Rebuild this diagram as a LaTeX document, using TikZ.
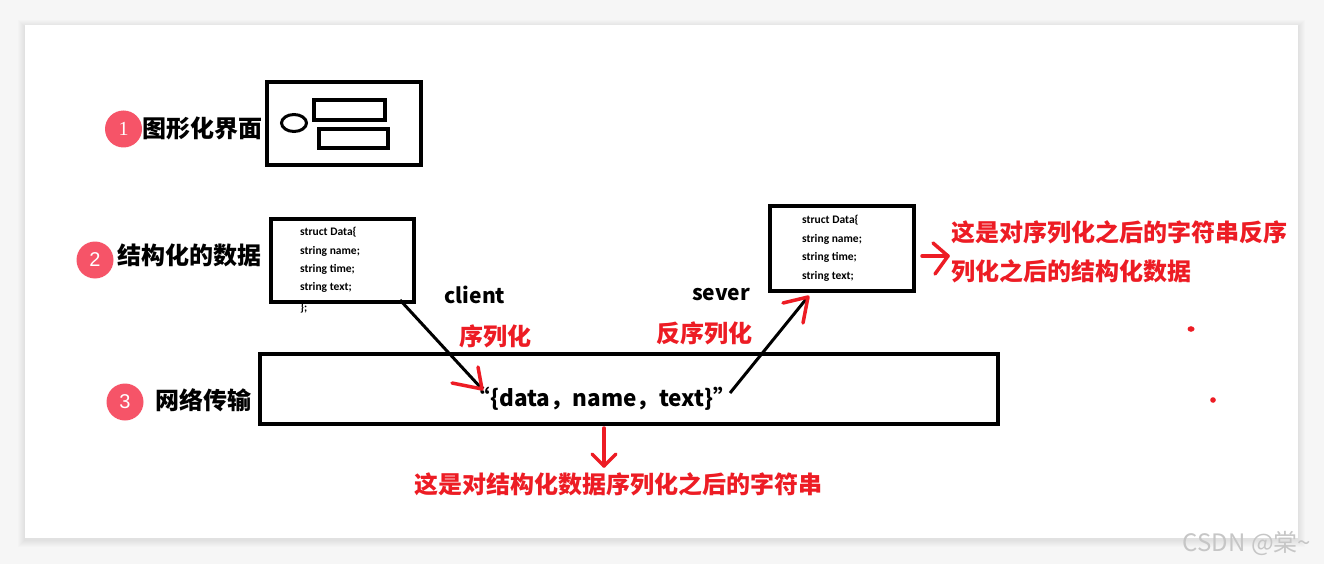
\documentclass[tikz,border=0pt]{standalone}
\usepackage{fontspec}
\newfontfamily\cjk{Noto Sans CJK SC}
\newfontfamily\codefont{Carlito}
\newfontfamily\serifnum{Liberation Serif}
\newfontfamily\sansnum{Liberation Sans}
\definecolor{paintred}{RGB}{237,28,36}
\definecolor{badgecol}{RGB}{246,84,104}
\definecolor{bgout}{RGB}{246,246,246}
\tikzset{
  badge/.style={circle, fill=badgecol, minimum size=37pt, inner sep=0pt, text=white, font=\fontsize{20}{20}\selectfont},
  lbl/.style={font=\cjk\bfseries\fontsize{24}{24}\selectfont, inner sep=0pt, anchor=west},
  redlbl/.style={lbl, text=paintred},
  small/.style={font=\cjk\bfseries\fontsize{21}{21}\selectfont, inner sep=0pt},
  boxline/.style={draw, line width=4.5pt, inner sep=0pt},
  code/.style={font=\codefont\bfseries\fontsize{11.5}{11.5}\selectfont, anchor=west, inner sep=0pt},
  pen/.style={paintred, line width=3.5pt, line cap=round, line join=round},
  connector/.style={black, line width=3pt},
}
\begin{document}
\begin{tikzpicture}[x=1pt,y=-1pt]
\useasboundingbox (0,0) rectangle (1324,564);
\fill[bgout] (0,0) rectangle (1324,564);
\foreach \i in {1,...,7} \fill[black, opacity=0.012] (25-\i,25-\i+2) rectangle (1298+\i,538+\i+2);
\fill[white] (25,25) rectangle (1298,538);

% row 1
\node[badge] (b1) at (123.5,129) {\serifnum 1};
\node[lbl] (t1) at (142,128) {图形化界面};
\node[boxline, minimum width=154pt, minimum height=83pt] (gui) at (344,123.5) {};
\draw[line width=3pt] (294,123) ellipse [x radius=12.5, y radius=8.5];
\draw[line width=3.5pt] (314,100) rectangle (385,120);
\draw[line width=3.5pt] (319,129) rectangle (388,148);

% row 2
\node[badge] (b2) at (95,260) {\sansnum 2};
\node[lbl] (t2) at (117,255) {结构化的数据};
\node[code] (c5) at (300,308) {\};};
\node[boxline, fill=white, minimum width=143pt, minimum height=83pt] (box2) at (342.5,260.5) {};
\node[code] (c1) at (300,232) {struct Data\{};
\node[code] (c2) at (300,251) {string name;};
\node[code] (c3) at (300,269) {string time;};
\node[code] (c4) at (300,287) {string text;};

\node[boxline, minimum width=144pt, minimum height=85pt] (box3) at (842,248.5) {};
\node[code] (s1) at (802,220) {struct Data\{};
\node[code] (s2) at (802,239) {string name;};
\node[code] (s3) at (802,257) {string time;};
\node[code] (s4) at (802,276) {string text;};

\node[redlbl] (r1) at (951,232) {这是对序列化之后的字符串反序};
\node[redlbl] (r2) at (951,271) {列化之后的结构化数据};

\node[small] (client) at (475,295) {client};
\node[small] (sever) at (721,295) {sever};
\node[redlbl, anchor=center] (ser) at (495,336) {序列化};
\node[redlbl, anchor=center] (deser) at (704,333) {反序列化};

% row 3
\node[badge] (b3) at (125,402) {\sansnum 3};
\node[lbl] (t3) at (155,400) {网络传输};
\node[boxline, minimum width=738pt, minimum height=70pt] (net) at (629,389) {};
\node[small, font=\cjk\bfseries\fontsize{22.5}{22.5}\selectfont, anchor=center] (data) at (602,399) {“\{data，name，text\}”};

\node[redlbl, anchor=center] (bottom) at (618.5,484) {这是对结构化数据序列化之后的字符串};

% connectors
\coordinate (a1s) at (400,300);
\coordinate (a1e) at (482,389);
\draw[connector] (a1s) -- (a1e);
\draw[pen] (452,383) -- (a1e) -- (478,367);

\coordinate (a2s) at (730,393);
\coordinate (a2e) at (807,298);
\draw[connector] (a2s) -- (a2e);
\draw[pen] (783,303) -- (808,297) -- (803,323);

\coordinate (a3s) at (922,256);
\coordinate (a3e) at (948,256);
\draw[pen] (a3s) -- (a3e);
\draw[pen] (933,243) -- (a3e) -- (935,274);

\coordinate (a4s) at (604,428);
\coordinate (a4e) at (604,466);
\draw[pen] (a4s) -- (a4e);
\draw[pen] (592,454) -- (a4e) -- (616,454);

\fill[paintred] (1191,329) ellipse [x radius=3.5, y radius=2.8];
\fill[paintred] (1213,400) circle [radius=2.8];

\node[font=\cjk\fontsize{24}{24}\selectfont, text=gray!45, inner sep=0pt] (wm) at (1247,543) {CSDN @棠\char`\~};
\end{tikzpicture}
\end{document}
